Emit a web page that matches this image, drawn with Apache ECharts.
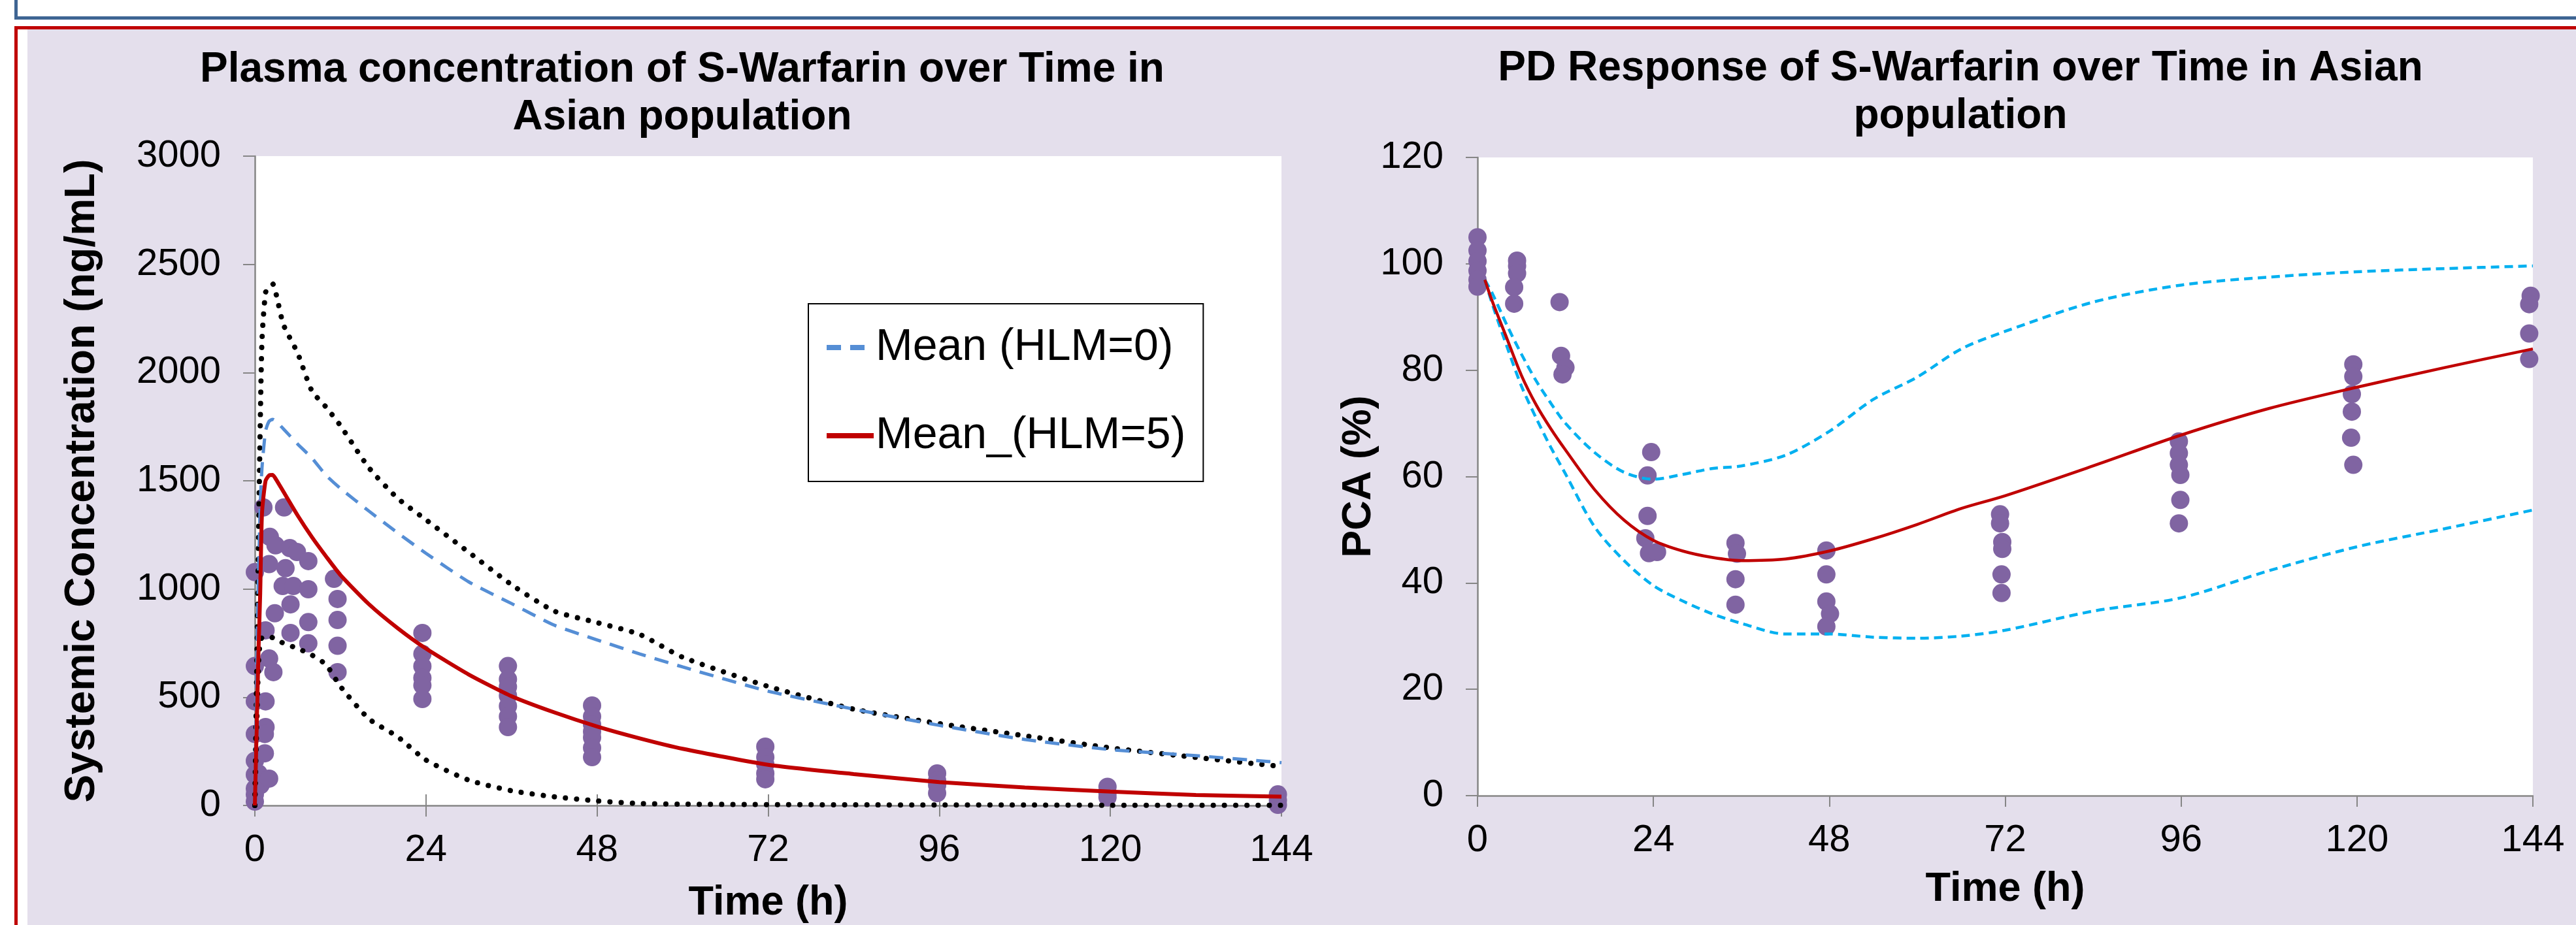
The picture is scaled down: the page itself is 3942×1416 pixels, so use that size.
<!DOCTYPE html>
<html>
<head>
<meta charset="utf-8">
<script src="https://cdn.jsdelivr.net/npm/echarts@6.0.0/dist/echarts.min.js"></script>
<style>
html, body { margin: 0; padding: 0; background: #fff; width: 3942px; height: 1416px; overflow: hidden; }
.blueBox { position: absolute; left: 22px; top: -10px; width: 3940px; height: 40px; border: 5px solid #3F6593; box-sizing: border-box; }
.redBox { position: absolute; left: 22px; top: 40px; width: 3940px; height: 1400px; border: 5px solid #C00000; box-sizing: border-box; background: #fff; }
.lavender { position: absolute; left: 42px; top: 45px; right: 0; bottom: 0; background: #E4DFEC; }
#chart { position: absolute; left: 0; top: 0; width: 3942px; height: 1416px; }
</style>
</head>
<body>
<div class="blueBox"></div>
<div class="redBox"></div>
<div class="lavender"></div>
<div id="chart"></div>
<script>
// ---- PK (left) : time grid for simulated curves
var pkGridT = [0, 0.25, 0.5, 0.75, 1, 1.5, 2, 2.5, 3, 4, 6, 8, 10, 12, 16, 20, 24, 30, 36, 42, 48, 54, 60, 72, 84, 96, 108, 120, 132, 144];
var pkMeanHlm0 = [0, 600, 1050, 1380, 1560, 1730, 1775, 1784, 1775, 1740, 1670, 1605, 1525, 1465, 1360, 1260, 1165, 1033, 933, 833, 765, 700, 640, 528, 445, 370, 305, 258, 230, 198];
var pkMeanHlm5 = [0, 350, 700, 980, 1350, 1500, 1525, 1527, 1505, 1450, 1340, 1240, 1150, 1065, 930, 820, 725, 605, 505, 430, 365, 310, 262, 188, 145, 108, 83, 64, 48, 41];
var pkP95 = [0, 600, 1200, 1750, 2150, 2370, 2395, 2410, 2360, 2222, 2090, 1915, 1840, 1755, 1560, 1420, 1320, 1170, 1020, 898, 845, 790, 685, 550, 445, 378, 322, 266, 222, 180];
var pkP5 = [0, 350, 650, 760, 775, 780, 780, 775, 765, 750, 725, 695, 650, 550, 400, 318, 210, 117, 68, 40, 21, 9, 6, 4, 3, 2, 2, 1, 1, 1];

// ---- PK observed
var pkObsT = [0, 0, 0, 0, 0, 0, 0, 0, 0, 0.5, 0.8,
    1.2, 1.5, 1.5, 1.5, 1.4, 1.4, 2.1, 2, 2, 2, 2.6, 2.9, 2.8,
    4.1, 3.9, 4.3, 4.9, 5.9, 5.4, 5, 5, 7.5, 7.5, 7.5, 7.5,
    11.1, 11.6, 11.6, 11.6, 11.6,
    23.5, 23.5, 23.5, 23.5, 23.5, 23.5,
    35.5, 35.5, 35.5, 35.5, 35.5, 35.5, 35.5,
    47.3, 47.3, 47.3, 47.3, 47.3, 47.3, 47.3,
    71.6, 71.6, 71.6, 71.6, 71.6,
    95.7, 95.7, 95.7, 95.7,
    119.6, 119.6, 119.6,
    143.5, 143.5, 143.5];
var pkObsC = [1078, 644, 481, 330, 206, 142, 78, 51, 18, 148, 94,
    1377, 809, 481, 362, 330, 241, 1241, 1115, 679, 124, 616, 1202, 888,
    1377, 1014, 1096, 1189, 1171, 1014, 929, 797, 1129, 999, 847, 749,
    1047, 954, 857, 738, 616,
    797, 700, 643, 589, 555, 492,
    644, 583, 548, 507, 459, 411, 362,
    462, 411, 374, 341, 314, 266, 223,
    272, 223, 190, 148, 121,
    148, 115, 94, 57,
    86, 58, 38,
    51, 24, 3];

// ---- PD (right)
var pdGridT = [1, 2, 4, 6, 8, 10, 12, 16, 20, 24, 28, 32, 36, 42, 48, 54, 60, 66, 72, 84, 96, 108, 120, 132, 144];
var pdMean = [97, 93, 86, 79, 73.5, 69, 65, 57.5, 51.8, 48, 46, 44.8, 44.2, 44.5, 46, 48.3, 51, 54, 56.4, 62, 67.8, 72.8, 76.8, 80.5, 84];
var pdUpper = [97, 94.5, 88.5, 83, 78, 73.8, 70, 64.5, 60.8, 59.5, 60.4, 61.5, 62, 64, 68.5, 74.5, 78.7, 84, 87.3, 92.8, 96, 97.5, 98.5, 99.1, 99.6];
var pdLower = [97, 92.5, 84.5, 77, 71, 65.5, 60.5, 50.5, 44.2, 39.5, 36.6, 34.2, 32.4, 30.4, 30.4, 29.8, 29.6, 30, 31.1, 34.7, 37.2, 42.3, 46.8, 50.2, 53.7];

var pdObsT = [0, 0, 0, 0, 0, 0,
    5.4, 5.4, 5.4, 5, 5,
    11.2, 11.4, 12, 11.6,
    23.7, 23.2, 23.2, 22.9, 23.4, 24.5,
    35.2, 35.4, 35.2, 35.2,
    47.6, 47.6, 47.6, 48.1, 47.6,
    71.3, 71.3, 71.6, 71.6, 71.5, 71.5,
    95.7, 95.7, 95.7, 95.9, 95.9, 95.7,
    119.5, 119.5, 119.3, 119.3, 119.2, 119.5,
    143.7, 143.5, 143.5, 143.5];
var pdObsV = [105, 102.5, 100.5, 98.7, 97, 95.7,
    100.6, 99.6, 98.2, 95.6, 92.5,
    92.8, 82.7, 80.5, 79.2,
    64.6, 60.2, 52.6, 48.4, 45.6, 45.8,
    47.5, 45.5, 40.7, 35.9,
    46.1, 41.6, 36.5, 34.2, 31.8,
    52.9, 51.2, 47.7, 46.4, 41.6, 38.1,
    66.6, 64.4, 62.2, 60.3, 55.6, 51.2,
    81.1, 78.8, 75.5, 72.2, 67.3, 62.2,
    94.0, 92.4, 86.9, 82.1];

var xTicks = [0, 24, 48, 72, 96, 120, 144];

function pairs(xs, ys) {
    var out = [];
    for (var i = 0; i < xs.length; i++) out.push([xs[i], ys[i]]);
    return out;
}
function plain(v) { return String(v); } // no thousands separator

var FONT = 'Liberation Sans, Arial, sans-serif';
var axisGrey = '#868686';

function xAxisBase(gridIndex, nameGap) {
    return {
        type: 'value', gridIndex: gridIndex, min: xTicks[0], max: xTicks[xTicks.length - 1], interval: 24,
        position: 'bottom',
        name: 'Time (h)', nameLocation: 'middle', nameGap: nameGap, nameMoveOverlap: false,
        nameTextStyle: { fontSize: 63, fontWeight: 'bold', color: '#000', fontFamily: FONT },
        axisLine: { show: true, onZero: false, lineStyle: { color: axisGrey, width: 2.5 } },
        axisTick: { show: true, length: 17, lineStyle: { color: axisGrey, width: 2 } },
        axisLabel: { show: true, fontSize: 58, color: '#000', margin: 40, fontFamily: FONT, formatter: plain },
        splitLine: { show: false }
    };
}

var chart = echarts.init(document.getElementById('chart'), null, { renderer: 'canvas' });

var dotLine = { color: '#000', width: 8, type: [0.1, 17], cap: 'round' };

var option = {
    animation: false,
    backgroundColor: 'transparent',
    textStyle: { fontFamily: FONT },
    title: [
        {
            text: 'Plasma concentration of S-Warfarin over Time in\nAsian population',
            left: 1044, top: 71, textAlign: 'center', padding: 0,
            textStyle: { fontSize: 64, fontWeight: 'bold', color: '#000', lineHeight: 73, fontFamily: FONT }
        },
        {
            text: 'PD Response of S-Warfarin over Time in Asian\npopulation',
            left: 3000, top: 69, textAlign: 'center', padding: 0,
            textStyle: { fontSize: 64, fontWeight: 'bold', color: '#000', lineHeight: 73, fontFamily: FONT }
        }
    ],
    legend: {
        show: true,
        data: ['Mean (HLM=0)', 'Mean_(HLM=5)'],
        orient: 'vertical',
        left: 1237, top: 465,
        padding: [33, 27, 36, 24],
        itemGap: 67,
        itemWidth: 72, itemHeight: 14,
        itemStyle: { opacity: 0 },
        lineStyle: { width: 8 },
        borderColor: '#000', borderWidth: 2, backgroundColor: '#fff', borderRadius: 0,
        textStyle: { fontSize: 68, color: '#000', lineHeight: 68, fontFamily: FONT, padding: [0, 0, 0, -2] },
        selectedMode: false
    },
    grid: [
        { left: 390, top: 239, width: 1571, height: 994, show: true, backgroundColor: '#fff', borderWidth: 0, containLabel: false, outerBoundsMode: 'none' },
        { left: 2261, top: 241, width: 1615, height: 977, show: true, backgroundColor: '#fff', borderWidth: 0, containLabel: false, outerBoundsMode: 'none' }
    ],
    xAxis: [
        xAxisBase(0, 118),
        // inner half of the crossing ticks on the PK axis
        {
            type: 'value', gridIndex: 0, min: 0, max: 144, interval: 24, position: 'bottom',
            axisLine: { show: false }, axisLabel: { show: false }, splitLine: { show: false },
            axisTick: { show: true, inside: true, length: 17, lineStyle: { color: axisGrey, width: 2 } }
        },
        xAxisBase(1, 112)
    ],
    yAxis: [
        {
            type: 'value', gridIndex: 0, min: 0, max: 3000, interval: 500,
            name: 'Systemic Concentration (ng/mL)', nameLocation: 'middle', nameGap: 232, nameMoveOverlap: false,
            nameTextStyle: { fontSize: 64, fontWeight: 'bold', color: '#000', fontFamily: FONT },
            axisLine: { show: true, lineStyle: { color: axisGrey, width: 2.5 } },
            axisTick: { show: true, length: 18, lineStyle: { color: axisGrey, width: 2 } },
            axisLabel: { fontSize: 58, color: '#000', margin: 52, fontFamily: FONT, formatter: plain },
            splitLine: { show: false }
        },
        {
            type: 'value', gridIndex: 1, min: 0, max: 120, interval: 20,
            name: 'PCA (%)', nameLocation: 'middle', nameGap: 150, nameMoveOverlap: false,
            nameTextStyle: { fontSize: 63, fontWeight: 'bold', color: '#000', fontFamily: FONT },
            axisLine: { show: true, lineStyle: { color: axisGrey, width: 2.5 } },
            axisTick: { show: true, length: 18, lineStyle: { color: axisGrey, width: 2 } },
            axisLabel: { fontSize: 58, color: '#000', margin: 52, fontFamily: FONT, formatter: plain },
            splitLine: { show: false }
        }
    ],
    series: [
        {
            name: 'P95', type: 'line', xAxisIndex: 0, yAxisIndex: 0, data: pairs(pkGridT, pkP95),
            symbol: 'none', smooth: 0.2, lineStyle: dotLine
        },
        {
            name: 'P5', type: 'line', xAxisIndex: 0, yAxisIndex: 0, data: pairs(pkGridT, pkP5),
            symbol: 'none', smooth: 0.2, lineStyle: dotLine
        },
        {
            name: 'Mean (HLM=0)', type: 'line', xAxisIndex: 0, yAxisIndex: 0, data: pairs(pkGridT, pkMeanHlm0),
            symbol: 'none', smooth: 0.2, lineStyle: { color: '#558ED5', width: 5, type: [22, 14] }
        },
        {
            name: 'Mean_(HLM=5)', type: 'line', xAxisIndex: 0, yAxisIndex: 0, data: pairs(pkGridT, pkMeanHlm5),
            symbol: 'none', smooth: 0.2, lineStyle: { color: '#C00000', width: 6 }
        },
        {
            name: 'PK observed', type: 'scatter', xAxisIndex: 0, yAxisIndex: 0, data: pairs(pkObsT, pkObsC),
            symbol: 'circle', symbolSize: 28, itemStyle: { color: '#8064A2', opacity: 1 }
        },
        {
            name: 'PD upper', type: 'line', xAxisIndex: 2, yAxisIndex: 1, data: pairs(pdGridT, pdUpper),
            symbol: 'none', smooth: 0.3, lineStyle: { color: '#00B0F0', width: 4.5, type: [13, 8] }
        },
        {
            name: 'PD lower', type: 'line', xAxisIndex: 2, yAxisIndex: 1, data: pairs(pdGridT, pdLower),
            symbol: 'none', smooth: 0.3, lineStyle: { color: '#00B0F0', width: 4.5, type: [13, 8] }
        },
        {
            name: 'PD mean', type: 'line', xAxisIndex: 2, yAxisIndex: 1, data: pairs(pdGridT, pdMean),
            symbol: 'none', smooth: 0.3, lineStyle: { color: '#C00000', width: 4.5 }
        },
        {
            name: 'PD observed', type: 'scatter', xAxisIndex: 2, yAxisIndex: 1, data: pairs(pdObsT, pdObsV),
            symbol: 'circle', symbolSize: 28, itemStyle: { color: '#8064A2', opacity: 1 }
        }
    ]
};

chart.setOption(option);
</script>
</body>
</html>
